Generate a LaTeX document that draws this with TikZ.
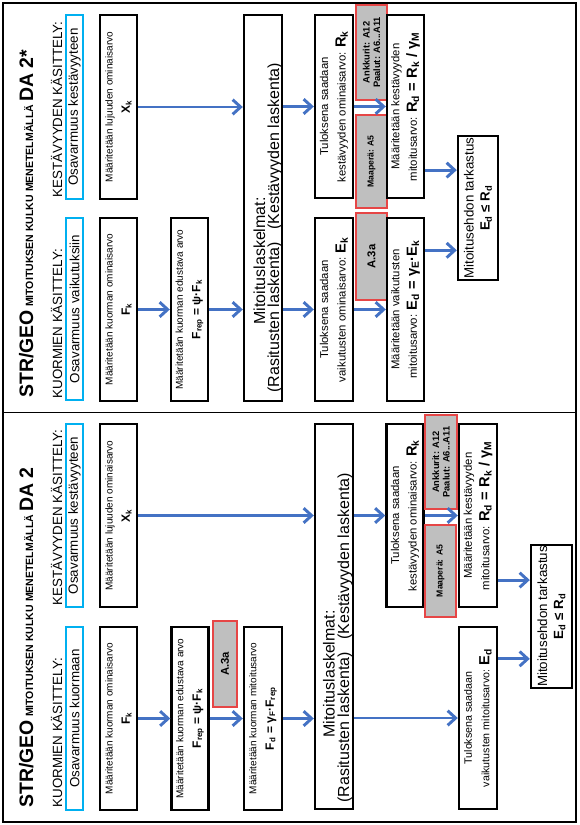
\documentclass[tikz,border=0pt]{standalone}
\usepackage{fontspec}
\setmainfont{Liberation Sans}
\usetikzlibrary{arrows.meta,calc}

\definecolor{arrblue}{RGB}{68,114,196}
\definecolor{osablue}{RGB}{0,176,240}
\definecolor{grayfill}{RGB}{191,191,191}
\definecolor{grayedge}{RGB}{230,70,70}

\newcommand\titbig{\fontsize{14.6}{18}\selectfont\bfseries}
\newcommand\titsmall{\fontsize{7.9}{10}\selectfont\bfseries}
\newcommand\valbf[1]{{\bfseries\fontsize{9}{10}\selectfont #1}}
\newcommand\valbig[1]{{\bfseries\fontsize{11}{13}\selectfont #1}}

\tikzset{every picture/.style={line width=0.75pt}}
\tikzset{
  blackbox/.style={draw, line width=1.8pt, rotate=90, inner sep=1pt, align=center, minimum height=27.75pt, font=\fontsize{7.5}{13}\selectfont},
  resbox/.style={blackbox, font=\fontsize{8.5}{13}\selectfont},
  osabox/.style={draw=osablue, line width=1.1pt, rotate=90, inner sep=0pt, minimum height=12.75pt, font=\fontsize{10}{12}\selectfont},
  graybox/.style={draw=grayedge, fill=grayfill, line width=0.8pt, rotate=90, inner sep=0pt, minimum height=23.25pt, align=center, font=\bfseries\fontsize{7}{8}\selectfont},
  headtxt/.style={rotate=90, anchor=west, inner sep=0pt, font=\fontsize{10}{12}\selectfont},
  mittxt/.style={rotate=90, anchor=west, inner sep=0pt, font=\fontsize{12}{14}\selectfont},
  bluearrow/.style={draw=arrblue, line width=2.2pt, -{Straight Barb[length=6pt,width=11pt]}},
}

\begin{document}
\begin{tikzpicture}[x=0.75pt,y=0.75pt,yscale=-1,xscale=1]
\useasboundingbox (0,0) rectangle (579,825);

%Frames
\draw [line width=1.1pt] (3,3) rectangle (576,412.5) ;
\draw [line width=1.1pt] (3,412.5) rectangle (576,822) ;

% ---------- DA 2* ----------
\node [rotate=90, anchor=base west, inner sep=0pt] (title1) at (33,398) {{\titbig STR/GEO}{\titsmall\ MITOITUKSEN KULKU MENETELMÄLLÄ }{\titbig DA 2*}};
\node [headtxt] (headR1) at (56.5,198) {KESTÄVYYDEN KÄSITTELY:};
\node [osabox, minimum width=138pt] (osaR1) at (74.5,107) {Osavarmuus kestävyyteen};
\node [headtxt] (headF1) at (56.5,399) {KUORMIEN KÄSITTELY:};
\node [osabox, minimum width=136.5pt] (osaF1) at (74.5,309) {Osavarmuus vaikutuksiin};

\node [blackbox, minimum width=138pt] (xk1) at (118.5,107) {Määritetään lujuuden ominaisarvo\\\valbf{X\textsubscript{k}}};
\node [blackbox, minimum width=137.25pt] (fk1) at (118.5,309.5) {Määritetään kuorman ominaisarvo\\\valbf{F\textsubscript{k}}};
\node [blackbox, minimum width=137.25pt] (frep1) at (189.5,309.5) {Määritetään kuorman edustava arvo\\\valbf{F\textsubscript{rep} = ψ·F\textsubscript{k}}};

\node [blackbox, minimum width=289.5pt, minimum height=28.5pt] (mit1) at (263,208) {};
\node [mittxt] (mitA1) at (259.5,325) {Mitoituslaskelmat:};
\node [mittxt] (mitB1) at (275,393) {(Rasitusten laskenta)};
\node [mittxt] (mitC1) at (275,230) {(Kestävyyden laskenta)};

\node [resbox, minimum width=137.25pt, minimum height=28.5pt] (rk1) at (334,106.5) {Tuloksena saadaan\\kestävyyden ominaisarvo: \valbig{R\textsubscript{k}}};
\node [resbox, minimum width=137.25pt, minimum height=28.5pt] (ek1) at (334,309.5) {Tuloksena saadaan\\vaikutusten ominaisarvo: \valbig{E\textsubscript{k}}};

\node [graybox, minimum width=71.25pt] (ank1) at (371.5,52.5) {Ankkurit: A12\\Paalut: A6...A11};
\node [graybox, minimum width=69.75pt, font=\bfseries\fontsize{6.5}{7.5}\selectfont] (maa1) at (371.5,161.5) {Maaperä: A5};
\node [graybox, minimum width=65.25pt, font=\bfseries\fontsize{8.5}{10}\selectfont] (a3a1) at (371.5,256.5) {A.3a};

\node [resbox, minimum width=137.25pt] (rd1) at (405.5,106.5) {Määritetään kestävyyden\\mitoitusarvo: \valbig{R\textsubscript{d} = R\textsubscript{k} / γ\textsubscript{M}}};
\node [resbox, minimum width=137.25pt] (ed1) at (405.5,309.5) {Määritetään vaikutusten\\mitoitusarvo: \valbig{E\textsubscript{d} = γ\textsubscript{E}·E\textsubscript{k}}};

\node [blackbox, minimum width=105pt, minimum height=30pt, font=\fontsize{10}{12}\selectfont] (tark1) at (478,208) {Mitoitusehdon tarkastus\\{\bfseries E\textsubscript{d} ≤ R\textsubscript{d}}};
\coordinate (tin1) at ($(tark1.north east)!0.24!(tark1.north west)$);
\coordinate (tin2) at ($(tark1.north east)!0.79!(tark1.north west)$);

\draw [bluearrow] (xk1.south) -- (xk1.south -| mit1.north) ;
\draw [bluearrow] (fk1.south) -- (frep1.north) ;
\draw [bluearrow] (frep1.south) -- (frep1.south -| mit1.north) ;
\draw [bluearrow] (rk1.north -| mit1.south) -- (rk1.north) ;
\draw [bluearrow] (ek1.north -| mit1.south) -- (ek1.north) ;
\draw [bluearrow] (rk1.south) -- (rd1.north) ;
\draw [bluearrow] (ek1.south) -- (ed1.north) ;
\draw [bluearrow] (tin1 -| rd1.south) -- (tin1) ;
\draw [bluearrow] (tin2 -| ed1.south) -- (tin2) ;

% ---------- DA 2 ----------
\node [rotate=90, anchor=base west, inner sep=0pt] (title2) at (33,808) {{\titbig STR/GEO}{\titsmall\ MITOITUKSEN KULKU MENETELMÄLLÄ }{\titbig DA 2}};
\node [headtxt] (headR2) at (56.5,606) {KESTÄVYYDEN KÄSITTELY:};
\node [osabox, minimum width=137.25pt] (osaR2) at (74.5,515.5) {Osavarmuus kestävyyteen};
\node [headtxt] (headF2) at (56.5,808) {KUORMIEN KÄSITTELY:};
\node [osabox, minimum width=137.25pt] (osaF2) at (74.5,718.5) {Osavarmuus kuormaan};

\node [blackbox, minimum width=137.25pt] (xk2) at (118.5,515.5) {Määritetään lujuuden ominaisarvo\\\valbf{X\textsubscript{k}}};
\node [blackbox, minimum width=137.25pt] (fk2) at (118.5,718.5) {Määritetään kuorman ominaisarvo\\\valbf{F\textsubscript{k}}};
\node [blackbox, minimum width=137.25pt] (frep2) at (190,718.5) {Määritetään kuorman edustava arvo\\\valbf{F\textsubscript{rep} = ψ·F\textsubscript{k}}};
\node [graybox, minimum width=64.5pt, minimum height=18pt, font=\bfseries\fontsize{8.5}{10}\selectfont] (a3a2) at (225,664) {A.3a};
\node [blackbox, minimum width=137.25pt, minimum height=28.5pt] (fd2) at (263,718.5) {Määritetään kuorman mitoitusarvo\\\valbf{F\textsubscript{d} = γ\textsubscript{F}·F\textsubscript{rep}}};

\node [blackbox, minimum width=288.75pt, minimum height=28.5pt] (mit2) at (334,616.5) {};
\node [mittxt] (mitA2) at (329,738) {Mitoituslaskelmat:};
\node [mittxt] (mitB2) at (345,803) {(Rasitusten laskenta)};
\node [mittxt] (mitC2) at (345,640) {(Kestävyyden laskenta)};

\node [resbox, minimum width=137.25pt] (rk2) at (405,515.5) {Tuloksena saadaan\\kestävyyden ominaisarvo: \valbig{R\textsubscript{k}}};
\node [graybox, minimum width=70.5pt, minimum height=24pt] (ank2) at (441,462) {Ankkurit: A12\\Paalut: A6...A11};
\node [graybox, minimum width=69pt, font=\bfseries\fontsize{6.5}{7.5}\selectfont] (maa2) at (440.5,571) {Maaperä: A5};
\node [resbox, minimum width=137.25pt, minimum height=28.5pt] (rd2) at (478,515.5) {Määritetään kestävyyden\\mitoitusarvo: \valbig{R\textsubscript{d} = R\textsubscript{k} / γ\textsubscript{M}}};
\node [resbox, minimum width=136.5pt, minimum height=28.5pt, font=\fontsize{8}{13}\selectfont] (ed2) at (478,718) {Tuloksena saadaan\\vaikutusten mitoitusarvo: \valbig{E\textsubscript{d}}};

\node [blackbox, minimum width=105.75pt, minimum height=30.75pt, font=\fontsize{10}{12}\selectfont] (tark2) at (551.5,616.5) {Mitoitusehdon tarkastus\\{\bfseries E\textsubscript{d} ≤ R\textsubscript{d}}};
\coordinate (tin3) at ($(tark2.north east)!0.25!(tark2.north west)$);
\coordinate (tin4) at ($(tark2.north east)!0.79!(tark2.north west)$);

\draw [bluearrow] (xk2.south) -- (xk2.south -| mit2.north) ;
\draw [bluearrow] (fk2.south) -- (frep2.north) ;
\draw [bluearrow] (frep2.south) -- (fd2.north) ;
\draw [bluearrow] (fd2.south) -- (fd2.south -| mit2.north) ;
\draw [bluearrow] (rk2.north -| mit2.south) -- (rk2.north) ;
\draw [bluearrow] (ed2.north -| mit2.south) -- (ed2.north) ;
\draw [bluearrow] (rk2.south) -- (rd2.north) ;
\draw [bluearrow] (tin3 -| rd2.south) -- (tin3) ;
\draw [bluearrow] (tin4 -| ed2.south) -- (tin4) ;
\end{tikzpicture}
\end{document}
